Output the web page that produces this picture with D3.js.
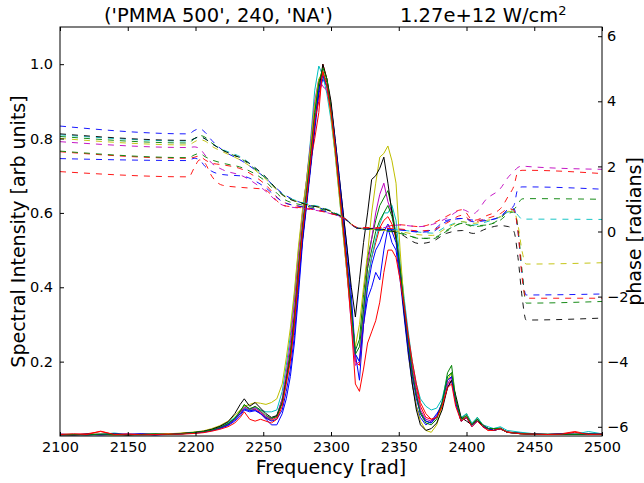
<!DOCTYPE html>
<html><head><meta charset="utf-8">
<script src="https://cdn.jsdelivr.net/npm/d3@7"></script>
<style>body{margin:0;background:#fff} svg{display:block} text{font-family:"DejaVu Sans",sans-serif;fill:#000}</style>
</head><body><svg id="c" width="644" height="483"></svg>
<script>
// ---------- data ----------
const freq = [2100,2110,2120,2130,2140,2150,2160,2170,2180,2190,2200,2206,2212,2218,2224,2229,2233,2236,2240,2244,2248,2252,2256,2260,2264,2267,2270,2273,2276,2279,2282,2285,2288,2291,2294,2297,2300,2303,2306,2309,2312,2315,2318,2321,2324,2327,2330,2333,2336,2339,2342,2345,2348,2351,2354,2357,2360,2363,2366,2370,2374,2378,2382,2386,2389,2392,2396,2400,2404,2408,2412,2416,2420,2425,2430,2440,2450,2460,2470,2480,2490,2500];

const intB0 = [0.003,0.004,0.003,0.005,0.004,0.003,0.006,0.004,0.005,0.006,0.008,
 0.01,0.014,0.02,0.028,
 0.04,0.055,0.07,0.065,0.068,0.06,0.045,0.03,0.03,0.06,
 0.1,0.16,0.25,0.38,0.52,0.62,0.72,0.82,0.92,0.96,0.94,0.89,0.8,0.7,0.6,0.5,0.38,0.22,
 0.15,0.3,0.37,0.4,0.44,0.42,0.5,0.56,0.52,0.5,0.42,0.32,0.22,0.14,0.08,0.05,
 0.03,0.04,0.06,0.08,0.13,0.15,0.09,0.04,0.05,0.025,0.04,0.03,0.02,0.015,0.02,0.01,0.006,0.004,0.005,0.004,0.006,0.004,0.005];
const intG0 = [0.004,0.003,0.005,0.004,0.003,0.005,0.004,0.003,0.006,0.007,0.01,
 0.012,0.017,0.024,0.034,
 0.048,0.068,0.082,0.074,0.078,0.066,0.05,0.045,0.055,0.1,
 0.16,0.23,0.33,0.46,0.57,0.66,0.76,0.87,0.95,0.98,0.95,0.88,0.78,0.67,0.56,0.44,0.33,0.23,
 0.26,0.38,0.48,0.53,0.58,0.62,0.64,0.66,0.61,0.54,0.45,0.35,0.26,0.17,0.11,0.065,
 0.04,0.035,0.05,0.09,0.17,0.19,0.1,0.045,0.06,0.03,0.05,0.03,0.02,0.02,0.022,0.01,0.008,0.005,0.004,0.005,0.004,0.006,0.005];
const intR0 = [0.005,0.004,0.006,0.012,0.004,0.003,0.005,0.004,0.005,0.007,0.009,
 0.011,0.016,0.022,0.03,
 0.045,0.06,0.075,0.07,0.072,0.062,0.048,0.042,0.05,0.09,
 0.15,0.22,0.32,0.45,0.56,0.65,0.74,0.8,0.87,1.0,0.96,0.89,0.79,0.68,0.57,0.45,0.33,0.2,
 0.19,0.3,0.42,0.48,0.52,0.56,0.58,0.59,0.57,0.53,0.45,0.36,0.27,0.19,0.13,0.08,
 0.05,0.045,0.05,0.08,0.14,0.15,0.09,0.04,0.05,0.03,0.04,0.025,0.015,0.02,0.018,0.012,0.006,0.005,0.004,0.006,0.012,0.005,0.004];
const intC = [0.004,0.005,0.003,0.004,0.008,0.004,0.003,0.005,0.004,0.006,0.008,
 0.012,0.018,0.026,0.036,
 0.05,0.065,0.075,0.07,0.075,0.07,0.065,0.065,0.07,0.12,
 0.19,0.27,0.38,0.5,0.6,0.69,0.8,0.93,0.995,0.97,0.92,0.85,0.76,0.65,0.54,0.43,0.32,0.22,
 0.2,0.32,0.42,0.48,0.53,0.57,0.6,0.6,0.62,0.58,0.47,0.37,0.28,0.2,0.14,0.1,
 0.08,0.07,0.075,0.1,0.16,0.17,0.1,0.05,0.06,0.035,0.05,0.03,0.025,0.02,0.025,0.015,0.01,0.006,0.005,0.004,0.005,0.012,0.006];
const intM = [0.003,0.004,0.005,0.003,0.004,0.006,0.004,0.003,0.005,0.006,0.009,
 0.011,0.016,0.023,0.032,
 0.046,0.064,0.078,0.072,0.076,0.065,0.052,0.046,0.054,0.1,
 0.17,0.25,0.36,0.49,0.6,0.69,0.79,0.9,0.96,0.94,0.93,0.87,0.77,0.66,0.55,0.43,0.3,0.19,
 0.2,0.34,0.46,0.53,0.6,0.65,0.68,0.63,0.6,0.54,0.45,0.35,0.26,0.18,0.12,0.07,
 0.045,0.04,0.05,0.08,0.14,0.16,0.09,0.045,0.055,0.03,0.045,0.03,0.02,0.015,0.02,0.01,0.007,0.005,0.004,0.005,0.004,0.005,0.004];
const intY = [0.004,0.003,0.004,0.005,0.003,0.004,0.005,0.004,0.006,0.008,0.011,
 0.014,0.02,0.028,0.04,
 0.055,0.07,0.08,0.085,0.09,0.088,0.085,0.09,0.1,0.14,
 0.21,0.29,0.39,0.51,0.61,0.69,0.78,0.89,0.96,0.98,0.94,0.86,0.76,0.65,0.54,0.43,0.32,0.24,
 0.3,0.4,0.49,0.6,0.68,0.75,0.76,0.78,0.74,0.68,0.5,0.35,0.23,0.14,0.08,0.04,
 0.015,0.01,0.03,0.08,0.15,0.17,0.1,0.04,0.055,0.03,0.045,0.025,0.02,0.015,0.02,0.01,0.006,0.004,0.005,0.004,0.005,0.004,0.005];
const intK = [0.004,0.003,0.005,0.004,0.006,0.003,0.004,0.005,0.004,0.007,0.01,
 0.013,0.018,0.026,0.038,
 0.06,0.085,0.1,0.08,0.09,0.075,0.06,0.05,0.055,0.09,
 0.15,0.21,0.3,0.42,0.53,0.63,0.73,0.84,0.93,1.0,0.96,0.9,0.8,0.7,0.6,0.5,0.4,0.32,
 0.42,0.52,0.6,0.69,0.7,0.72,0.75,0.68,0.6,0.53,0.44,0.33,0.23,0.14,0.07,0.03,
 0.015,0.02,0.035,0.07,0.13,0.15,0.11,0.05,0.04,0.03,0.045,0.025,0.02,0.015,0.02,0.01,0.006,0.005,0.004,0.005,0.004,0.005,0.004];
const intB1 = [0.005,0.003,0.004,0.003,0.005,0.004,0.006,0.003,0.004,0.006,0.009,
 0.011,0.015,0.021,0.03,
 0.043,0.06,0.072,0.068,0.07,0.06,0.048,0.04,0.045,0.07,
 0.12,0.18,0.27,0.4,0.53,0.63,0.73,0.84,0.93,0.97,0.94,0.88,0.79,0.69,0.58,0.47,0.35,0.22,
 0.2,0.3,0.4,0.46,0.5,0.52,0.55,0.57,0.55,0.52,0.44,0.34,0.24,0.16,0.1,0.06,
 0.04,0.035,0.055,0.09,0.15,0.16,0.09,0.04,0.05,0.03,0.04,0.025,0.02,0.015,0.02,0.01,0.007,0.005,0.004,0.006,0.004,0.005,0.006];
const intG1 = [0.003,0.004,0.003,0.005,0.004,0.003,0.004,0.006,0.004,0.006,0.01,
 0.012,0.016,0.023,0.033,
 0.047,0.066,0.085,0.072,0.08,0.07,0.055,0.048,0.052,0.09,
 0.15,0.22,0.32,0.45,0.56,0.66,0.76,0.87,0.95,0.99,0.96,0.88,0.78,0.67,0.56,0.45,0.34,0.22,
 0.24,0.34,0.45,0.5,0.55,0.58,0.6,0.62,0.59,0.54,0.45,0.35,0.26,0.17,0.11,0.06,
 0.035,0.03,0.045,0.09,0.16,0.17,0.1,0.045,0.055,0.03,0.045,0.03,0.02,0.02,0.02,0.01,0.007,0.005,0.004,0.005,0.004,0.005,0.005];
const intR1 = [0.004,0.006,0.004,0.013,0.004,0.005,0.003,0.004,0.005,0.005,0.007,
 0.009,0.013,0.018,0.025,
 0.035,0.05,0.065,0.045,0.04,0.045,0.04,0.035,0.045,0.08,
 0.14,0.2,0.3,0.43,0.55,0.64,0.74,0.85,0.9,0.98,0.94,0.87,0.78,0.67,0.56,0.44,0.3,0.14,
 0.12,0.18,0.25,0.28,0.31,0.36,0.44,0.5,0.5,0.48,0.42,0.35,0.27,0.2,0.14,0.09,
 0.06,0.045,0.05,0.08,0.13,0.14,0.08,0.04,0.05,0.025,0.04,0.025,0.015,0.015,0.02,0.01,0.006,0.005,0.004,0.005,0.01,0.004,0.005];

const phaseFreq = [2100,2195,2199,2203,2207,2212,2220,2235,2250,2265,2280,2295,2310,2320,2335,2350,2365,2375,2385,2397,2405,2415,2425,2431,2435,2438,2441,2444,2500];
const phB0 = [3.24,3.0,3.1,3.16,3.05,2.8,2.5,2.15,1.7,1.15,0.85,0.68,0.38,0.1,0.05,0.05,-0.02,0.0,0.3,0.4,0.35,0.35,0.46,0.65,0.8,1.32,1.37,1.37,1.3];
const phG0 = [2.92,2.72,2.85,2.95,2.9,2.72,2.5,2.2,1.7,1.12,0.86,0.7,0.4,0.1,0.05,-0.02,-0.21,-0.2,0.03,0.25,0.18,0.2,0.4,0.64,0.68,0.85,1.0,1.01,0.99];
const phR0 = [2.45,2.25,2.28,2.32,2.2,2.1,2.05,1.9,1.5,0.9,0.75,0.62,0.4,0.12,0.12,0.21,0.15,0.25,0.46,0.67,0.34,0.49,0.7,1.1,1.4,1.84,1.88,1.88,1.78];
const phC = [2.97,2.78,2.85,2.9,2.85,2.7,2.52,2.25,1.72,1.12,0.88,0.72,0.42,0.1,0.07,0.05,-0.02,-0.05,0.15,0.3,0.2,0.3,0.45,0.6,0.62,0.5,0.38,0.38,0.37];
const phM = [2.76,2.58,2.6,2.55,2.35,2.1,1.9,1.7,1.3,0.8,0.7,0.6,0.38,0.1,0.1,0.2,0.15,0.22,0.4,0.67,0.55,1.01,1.32,1.68,1.85,1.97,2.01,2.0,1.91];
const phY = [2.86,2.66,2.75,2.82,2.78,2.62,2.45,2.15,1.68,1.1,0.85,0.7,0.4,0.1,0.05,0.0,-0.1,-0.12,0.1,0.3,0.25,0.34,0.46,0.62,0.6,0.2,-0.6,-1.0,-0.96];
const phK = [3.0,2.8,2.85,2.92,2.85,2.7,2.5,2.22,1.75,1.1,0.85,0.7,0.4,0.1,0.08,-0.05,-0.37,-0.3,-0.06,0.03,-0.06,0.09,0.18,0.15,0.0,-0.8,-2.0,-2.72,-2.66];
const phB1 = [2.24,2.18,2.25,2.2,2.0,1.85,1.75,1.7,1.4,0.9,0.75,0.62,0.4,0.1,0.06,0.05,0.0,0.05,0.34,0.4,0.3,0.34,0.46,0.68,0.7,0.0,-1.3,-1.95,-1.92];
const phG1 = [2.47,2.27,2.35,2.4,2.3,2.2,2.1,1.95,1.6,1.0,0.8,0.66,0.4,0.1,0.05,-0.05,-0.2,-0.22,0.0,0.25,0.15,0.2,0.35,0.55,0.6,0.1,-1.2,-2.2,-2.15];
const phR1 = [1.84,1.68,1.95,2.2,2.1,1.7,1.42,1.35,1.3,0.8,0.72,0.6,0.4,0.12,0.1,0.08,0.02,0.05,0.25,0.5,0.3,0.4,0.55,0.7,0.65,0.0,-1.4,-2.05,-2.05];

const seriesColors = ["#0000ff","#008000","#ff0000","#00bfbf","#bf00bf","#bfbf00","#000000","#0000ff","#008000","#ff0000"];
const intensitySeries = [intB0,intG0,intR0,intC,intM,intY,intK,intB1,intG1,intR1];
const phaseSeries = [phB0,phG0,phR0,phC,phM,phY,phK,phB1,phG1,phR1];

const xTicks = [2100,2150,2200,2250,2300,2350,2400,2450,2500];
const yTicks = [0.2,0.4,0.6,0.8,1.0];
const phaseTicks = [-6,-4,-2,0,2,4,6];
const xDomain = [2100,2500];
const yDomain = [0,1.1];
const phaseDomain = [-2*Math.PI, 2*Math.PI];

// ---------- drawing ----------
const L=60, R=602, T=27, B=436;
const svg = d3.select("#c");
const x = d3.scaleLinear(xDomain,[L,R]);
const yI = d3.scaleLinear(yDomain,[B,T]);
const yP = d3.scaleLinear(phaseDomain,[B,T]);

svg.append("defs").append("clipPath").attr("id","clip")
  .append("rect").attr("x",L).attr("y",T).attr("width",R-L).attr("height",B-T);

const gI = svg.append("g").attr("clip-path","url(#clip)");
const lineI = d3.line().x((d,i)=>x(freq[i])).y(d=>yI(d));
intensitySeries.forEach((s,k)=>{
  gI.append("path").attr("d",lineI(s)).attr("fill","none")
    .attr("stroke",seriesColors[k]).attr("stroke-width",1).attr("stroke-linejoin","round");
});

const gP = svg.append("g").attr("clip-path","url(#clip)");
const lineP = d3.line().x((d,i)=>x(phaseFreq[i])).y(d=>yP(d)).curve(d3.curveMonotoneX);
phaseSeries.forEach((s,k)=>{
  gP.append("path").attr("d",lineP(s)).attr("fill","none")
    .attr("stroke",seriesColors[k]).attr("stroke-width",1).attr("stroke-dasharray","6,6")
    .attr("stroke-opacity",0.9);
});

const fmtMinus = d => d<0 ? "\u2212"+Math.abs(d) : String(d);
function styleAxis(g){
  g.select(".domain").remove();
  g.selectAll(".tick line").attr("stroke","#000");
  g.selectAll("text").attr("font-size","14.5px").attr("font-family","DejaVu Sans, sans-serif").attr("fill","#000");
}
svg.append("g").attr("transform",`translate(0,${B})`)
  .call(d3.axisBottom(x).tickValues(xTicks).tickSize(-4).tickPadding(6).tickFormat(d3.format("d"))).call(styleAxis);
svg.append("g").attr("transform",`translate(0,${T})`)
  .call(d3.axisTop(x).tickValues(xTicks).tickSize(-4).tickFormat("")).call(styleAxis);
svg.append("g").attr("transform",`translate(${L},0)`)
  .call(d3.axisLeft(yI).tickValues(yTicks).tickSize(-4).tickPadding(7).tickFormat(d3.format(".1f"))).call(styleAxis);
svg.append("g").attr("transform",`translate(${R},0)`)
  .call(d3.axisRight(yP).tickValues(phaseTicks).tickSize(-4).tickPadding(5).tickFormat(fmtMinus)).call(styleAxis);

svg.append("rect").attr("x",L).attr("y",T).attr("width",R-L).attr("height",B-T)
  .attr("fill","none").attr("stroke","#000").attr("stroke-width",1);

// titles & labels
svg.append("text").attr("x",104).attr("y",22).attr("font-size","19.5px").text("('PMMA 500', 240, 'NA')");
const t2 = svg.append("text").attr("x",400).attr("y",22).attr("font-size","19.5px");
t2.append("tspan").text("1.27e+12 W/cm");
t2.append("tspan").attr("font-size","13px").attr("dy","-7").text("2");

svg.append("text").attr("x",331).attr("y",474).attr("text-anchor","middle").attr("font-size","19px").text("Frequency [rad]");
svg.append("text").attr("transform",`translate(25,${(T+B)/2}) rotate(-90)`).attr("text-anchor","middle")
  .attr("font-size","19px").text("Spectral Intensity [arb units]");
svg.append("text").attr("transform",`translate(641,${(T+B)/2}) rotate(-90)`).attr("text-anchor","middle")
  .attr("font-size","19px").text("phase [radians]");
</script></body></html>
